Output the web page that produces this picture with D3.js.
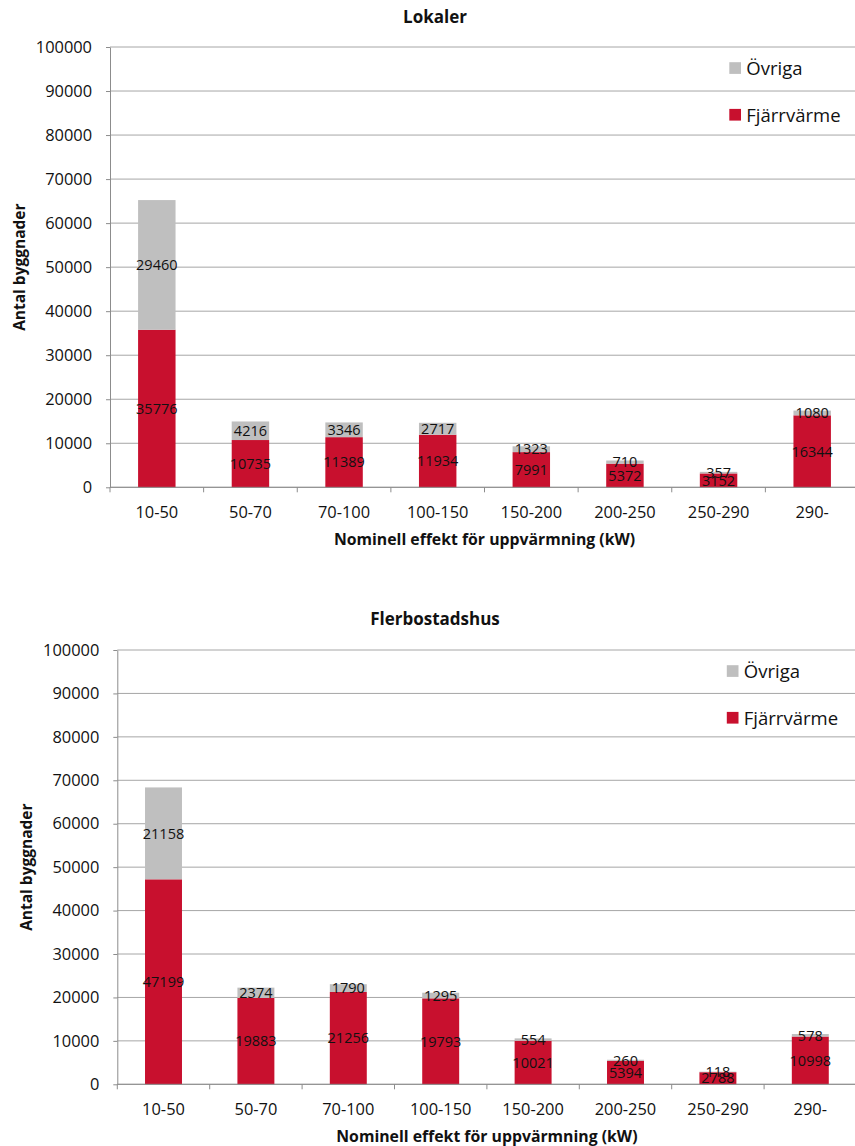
<!DOCTYPE html>
<html>
<head>
<meta charset="utf-8">
<script src="https://cdn.jsdelivr.net/npm/d3@7"></script>
<style>
  html, body { margin: 0; padding: 0; background: #fff; }
  svg { display: block; }
  text { font-family: "Open Sans", "Noto Sans", sans-serif; fill: #111; }
</style>
</head>
<body>
<svg id="chart" width="855" height="1146"></svg>
<script>
// ---- Data ----
const categories = ["10-50", "50-70", "70-100", "100-150", "150-200", "200-250", "250-290", "290-"];
const seriesNames = ["Fjärrvärme", "Övriga"];
const lokalerFjarrvarme = [35776, 10735, 11389, 11934, 7991, 5372, 3152, 16344];
const lokalerOvriga = [29460, 4216, 3346, 2717, 1323, 710, 357, 1080];
const flerbostadFjarrvarme = [47199, 19883, 21256, 19793, 10021, 5394, 2788, 10998];
const flerbostadOvriga = [21158, 2374, 1790, 1295, 554, 260, 118, 578];
const yTicks = [0, 10000, 20000, 30000, 40000, 50000, 60000, 70000, 80000, 90000, 100000];
const chartTitles = ["Lokaler", "Flerbostadshus"];
const xAxisTitle = "Nominell effekt för uppvärmning (kW)";
const yAxisTitle = "Antal byggnader";

// ---- Styles ----
const colors = { "Fjärrvärme": "#C8102E", "Övriga": "#BFBFBF" };
const gridColor = "#A6A6A6";
const axisColor = "#8C8C8C";

const svg = d3.select("#chart");

const panels = [
  { title: chartTitles[0], fj: lokalerFjarrvarme, ov: lokalerOvriga,
    left: 110, right: 859, top: 47, bottom: 487.3, titleY: 23 },
  { title: chartTitles[1], fj: flerbostadFjarrvarme, ov: flerbostadOvriga,
    left: 117.3, right: 856.5, top: 650, bottom: 1084.3, titleY: 625 }
];

panels.forEach(p => {
  const g = svg.append("g");
  const rows = categories.map((c, i) => ({ cat: c, "Fjärrvärme": p.fj[i], "Övriga": p.ov[i] }));
  const stacked = d3.stack().keys(seriesNames)(rows);

  const x = d3.scaleBand().domain(categories).range([p.left, p.right])
    .paddingInner(0.6).paddingOuter(0.3);
  const y = d3.scaleLinear().domain([0, 100000]).range([p.bottom, p.top]);
  const step = x.step();

  // gridlines
  g.append("g").selectAll("line").data(yTicks).join("line")
    .attr("x1", p.left).attr("x2", p.right)
    .attr("y1", d => y(d)).attr("y2", d => y(d))
    .attr("stroke", gridColor).attr("stroke-width", 1);

  // y axis
  const yAxis = g.append("g").attr("transform", `translate(${p.left},0)`)
    .call(d3.axisLeft(y).tickValues(yTicks).tickFormat(d3.format("d"))
      .tickSize(4).tickSizeOuter(0).tickPadding(14));
  yAxis.select(".domain").attr("stroke", axisColor);
  yAxis.selectAll(".tick line").attr("stroke", axisColor);
  yAxis.selectAll("text").style("font-size", "16.4px").style("font-family", "'Open Sans', sans-serif").attr("fill", "#111");

  // bars
  g.append("g").selectAll("g").data(stacked).join("g")
    .attr("fill", d => colors[d.key])
    .selectAll("rect").data(d => d).join("rect")
    .attr("x", d => x(d.data.cat))
    .attr("width", x.bandwidth())
    .attr("y", d => y(d[1]))
    .attr("height", d => y(d[0]) - y(d[1]));

  // data labels (centered in each segment)
  g.append("g").selectAll("g").data(stacked).join("g")
    .selectAll("text").data(d => d).join("text")
    .attr("x", d => x(d.data.cat) + x.bandwidth() / 2)
    .attr("y", d => (y(d[0]) + y(d[1])) / 2)
    .attr("dy", "0.36em")
    .attr("text-anchor", "middle")
    .style("font-size", "14.5px")
    .text(d => d[1] - d[0]);

  // x axis
  const xAxisG = g.append("g").attr("transform", `translate(0,${p.bottom})`);
  xAxisG.append("line").attr("x1", p.left).attr("x2", p.right)
    .attr("stroke", axisColor);
  const boundaries = categories.map(c => x(c) - step * 0.3).concat([x(categories[categories.length - 1]) + step * 0.7]);
  xAxisG.selectAll("line.bt").data(boundaries).join("line").attr("class", "bt")
    .attr("x1", d => d).attr("x2", d => d).attr("y1", 0).attr("y2", 5)
    .attr("stroke", axisColor);
  xAxisG.selectAll("text.xl").data(categories).join("text").attr("class", "xl")
    .attr("x", d => x(d) + x.bandwidth() / 2)
    .attr("y", 31)
    .attr("text-anchor", "middle")
    .style("font-size", "16.4px")
    .text(d => d);

  // titles
  g.append("text").attr("x", 435).attr("y", p.titleY)
    .attr("text-anchor", "middle").style("font-size", "17px").style("font-weight", "bold")
    .text(p.title);
  g.append("text").attr("x", (p.left + p.right) / 2).attr("y", p.bottom + 57.5)
    .attr("text-anchor", "middle").style("font-size", "15.8px").style("font-weight", "bold")
    .text(xAxisTitle);
  g.append("text")
    .attr("transform", `translate(${p.left - 85.5},${(p.top + p.bottom) / 2}) rotate(-90)`)
    .attr("text-anchor", "middle").style("font-size", "15.5px").style("font-weight", "bold")
    .text(yAxisTitle);

  // legend
  const legendItems = ["Övriga", "Fjärrvärme"];
  const lg = g.append("g");
  legendItems.forEach((name, i) => {
    const ly = p.top + 15.2 + i * 46.7;
    const lx = p.right - 129.7;
    lg.append("rect").attr("x", lx).attr("y", ly).attr("width", 11.7).attr("height", 11.7)
      .attr("fill", colors[name]);
    lg.append("text").attr("x", lx + 17).attr("y", ly + 12.7)
      .style("font-size", "18.5px").text(name);
  });
});
</script>
</body>
</html>
